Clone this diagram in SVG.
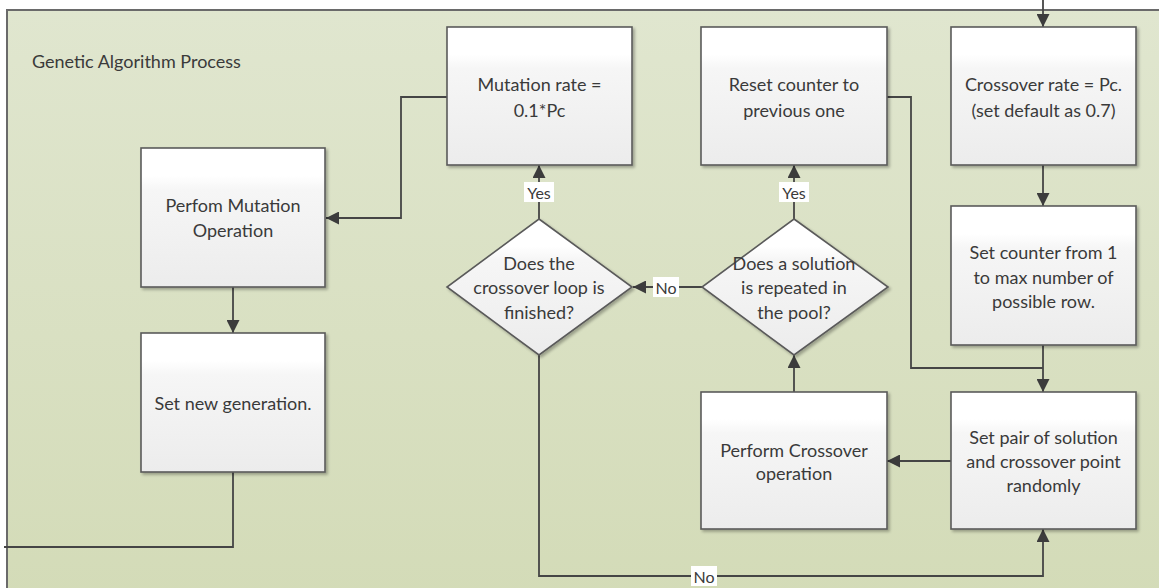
<svg xmlns="http://www.w3.org/2000/svg" width="1159" height="588" viewBox="0 0 1159 588">
<defs>
<linearGradient id="bg" x1="0" y1="0" x2="0" y2="1">
<stop offset="0" stop-color="#e0e6cf"/>
<stop offset="1" stop-color="#d3dbb7"/>
</linearGradient>
<linearGradient id="nodeFill" x1="0" y1="0" x2="0" y2="1">
<stop offset="0" stop-color="#ffffff"/>
<stop offset="0.2" stop-color="#ffffff"/>
<stop offset="0.3" stop-color="#f6f6f6"/>
<stop offset="1" stop-color="#ececec"/>
</linearGradient>
<filter id="sh" x="-10%" y="-10%" width="130%" height="130%">
<feGaussianBlur in="SourceAlpha" stdDeviation="1.5"/>
<feOffset dx="1.5" dy="1.5" result="b"/>
<feComponentTransfer><feFuncA type="linear" slope="0.3"/></feComponentTransfer>
<feMerge><feMergeNode/><feMergeNode in="SourceGraphic"/></feMerge>
</filter>
<marker id="arr" viewBox="0 0 10 10" refX="10" refY="5" markerWidth="13" markerHeight="13" markerUnits="userSpaceOnUse" orient="auto">
<path d="M0,0 L10,5 L0,10 z" fill="#3c3c3c"/>
</marker>
</defs>
<style>
.node{fill:url(#nodeFill);stroke:#5a5a5a;stroke-width:1.6;filter:url(#sh)}
.t{font-family:Lato,"Open Sans","Liberation Sans",sans-serif;font-size:18px;fill:#3a3a3a;text-anchor:middle;dominant-baseline:central}
.lab{font-family:Lato,"Open Sans","Liberation Sans",sans-serif;font-size:16px;fill:#3a3a3a;text-anchor:middle;dominant-baseline:central}
.labbg{fill:#ffffff}
.c{fill:none;stroke:#454545;stroke-width:1.8}
.ca{fill:none;stroke:#454545;stroke-width:1.8;marker-end:url(#arr)}
</style>

<g id="container">
<rect x="7" y="10" width="1170" height="600" fill="url(#bg)" stroke="#6a6a6a" stroke-width="2"/>
<text x="32" y="61" style="font-family:Lato,'Open Sans','Liberation Sans',sans-serif;font-size:18px;fill:#3a3a3a;dominant-baseline:central">Genetic Algorithm Process</text>
</g>

<g id="connectors">
<path class="ca" d="M1043,0 L1043,27"/>
<path class="ca" d="M1043,165 L1043,206"/>
<path class="ca" d="M1043,345 L1043,392"/>
<path class="c" d="M887,97 L911,97 L911,368 L1043,368"/>
<path class="ca" d="M951,461 L887,461"/>
<path class="ca" d="M794,392 L794,355"/>
<path class="ca" d="M702,287 L633,287"/>
<path class="ca" d="M794,219 L794,165"/>
<path class="ca" d="M539,219 L539,165"/>
<path class="ca" d="M539,355 L539,576 L1043,576 L1043,529"/>
<path class="ca" d="M447,97 L401,97 L401,218 L326,218"/>
<path class="ca" d="M233,287 L233,333"/>
<path class="c" d="M233,472 L233,547 L4,547"/>
<rect class="labbg" x="524" y="182" width="30" height="20"/>
<text class="lab" x="539" y="192">Yes</text>
<rect class="labbg" x="779" y="182" width="30" height="20"/>
<text class="lab" x="794" y="192">Yes</text>
<rect class="labbg" x="653" y="277" width="26" height="20"/>
<text class="lab" x="666" y="287">No</text>
<rect class="labbg" x="691" y="566" width="26" height="20"/>
<text class="lab" x="704" y="576">No</text>
</g>

<g id="mutation-rate">
<rect class="node" x="447" y="27" width="185" height="138"/>
<text class="t" x="539.5" y="84">Mutation rate =</text>
<text class="t" x="539.5" y="110">0.1*Pc</text>
</g>
<g id="reset-counter">
<rect class="node" x="701" y="27" width="186" height="138"/>
<text class="t" x="794" y="84">Reset counter to</text>
<text class="t" x="794" y="110">previous one</text>
</g>
<g id="crossover-rate">
<rect class="node" x="951" y="27" width="185" height="138"/>
<text class="t" x="1043.5" y="84">Crossover rate = Pc.</text>
<text class="t" x="1043.5" y="110">(set default as 0.7)</text>
</g>
<g id="set-counter">
<rect class="node" x="951" y="206" width="185" height="139"/>
<text class="t" x="1043.5" y="252">Set counter from 1</text>
<text class="t" x="1043.5" y="277">to max number of</text>
<text class="t" x="1043.5" y="301">possible row.</text>
</g>
<g id="set-pair">
<rect class="node" x="951" y="392" width="185" height="137"/>
<text class="t" x="1043.5" y="437">Set pair of solution</text>
<text class="t" x="1043.5" y="461">and crossover point</text>
<text class="t" x="1043.5" y="485">randomly</text>
</g>
<g id="perform-crossover">
<rect class="node" x="701" y="392" width="186" height="137"/>
<text class="t" x="794" y="450">Perform Crossover</text>
<text class="t" x="794" y="473">operation</text>
</g>
<g id="repeated">
<polygon class="node" points="794,219 888,287 794,355 702,287"/>
<text class="t" x="794" y="263">Does a solution</text>
<text class="t" x="794" y="287">is repeated in</text>
<text class="t" x="794" y="312">the pool?</text>
</g>
<g id="loop-finished">
<polygon class="node" points="539,219 632,287 539,355 447,287"/>
<text class="t" x="539" y="263">Does the</text>
<text class="t" x="539" y="287">crossover loop is</text>
<text class="t" x="539" y="312">finished?</text>
</g>
<g id="perform-mutation">
<rect class="node" x="141" y="148" width="184" height="139"/>
<text class="t" x="233" y="205">Perfom Mutation</text>
<text class="t" x="233" y="230">Operation</text>
</g>
<g id="new-generation">
<rect class="node" x="141" y="333" width="184" height="139"/>
<text class="t" x="233" y="403">Set new generation.</text>
</g>
</svg>
